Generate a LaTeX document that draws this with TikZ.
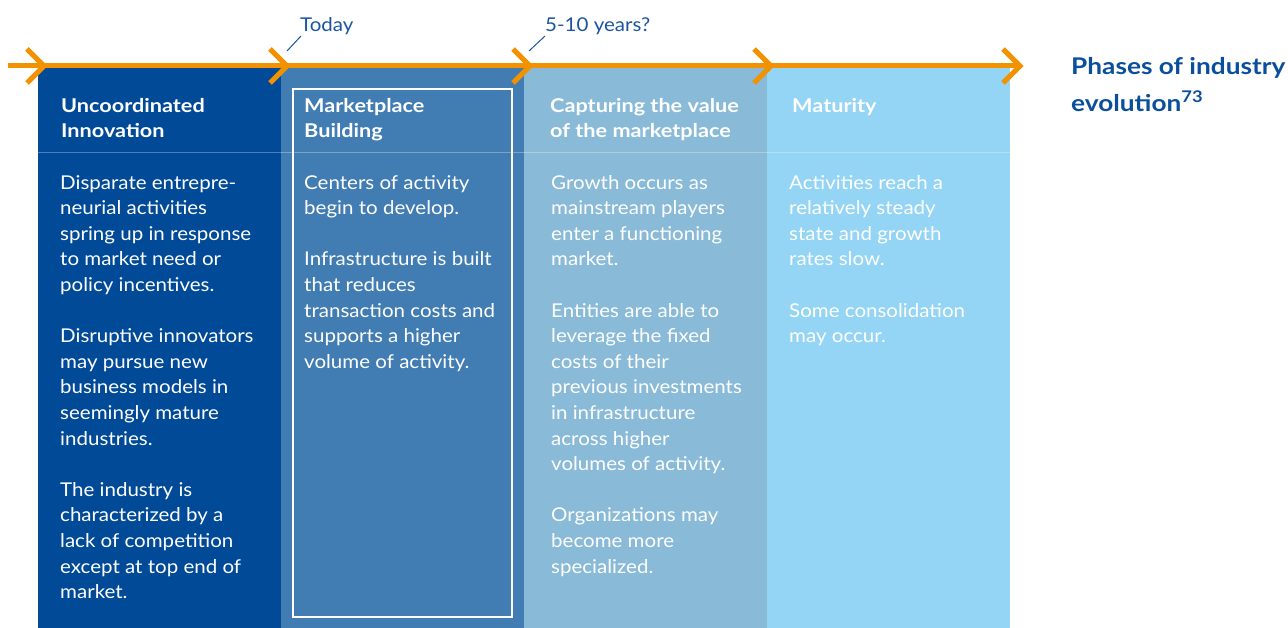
\documentclass[tikz,border=0pt]{standalone}
\usepackage{fontspec}
\setmainfont[FakeStretch=1.08, BoldFeatures={FakeStretch=1.14}]{Lato}
\definecolor{colA}{HTML}{004A98}
\definecolor{colB}{HTML}{417DB3}
\definecolor{colC}{HTML}{89BAD8}
\definecolor{colD}{HTML}{94D4F4}
\definecolor{arroworange}{HTML}{F39200}
\definecolor{titleblue}{HTML}{0B4F9C}
\definecolor{labelblue}{HTML}{1A56A0}
\tikzset{
  bodytext/.style={anchor=north west, inner sep=0pt, align=left, text=white,
    font=\fontsize{19}{25.6}\selectfont},
  headtext/.style={anchor=north west, inner sep=0pt, align=left, text=white,
    font=\fontsize{19}{25.4}\selectfont\bfseries},
  chevron/.style={draw=arroworange, line width=5pt, line cap=butt, line join=miter},
  leader/.style={draw=labelblue, line width=1pt},
  toplabel/.style={anchor=west, inner sep=0pt, text=labelblue, font=\fontsize{19}{22}\selectfont},
}
\begin{document}
\begin{tikzpicture}[x=1pt,y=-1pt]
\useasboundingbox (0,0) rectangle (1288,628);
% columns
\fill[colA] (38,66) rectangle (281,628);
\fill[colB] (281,66) rectangle (524,628);
\fill[colC] (524,66) rectangle (767,628);
\fill[colD] (767,66) rectangle (1010,628);
% divider
\draw[white, opacity=0.3, line width=1pt] (38,153) -- (1010,153);
% white frame
\draw[white, line width=1.8pt] (293,89) rectangle (512,617);
% arrow line
\draw[chevron] (8,66) -- (1018,66);
\foreach \t in {44,287,530,771,1020}{
  \draw[chevron] (\t-17,49) -- (\t,66) -- (\t-17,83);
}
% top labels
\node[toplabel] (today) at (300,26) {Today};
\node[toplabel] (years) at (545,26) {5-10 years?};
\coordinate (todaypt) at (287,51);
\coordinate (yearspt) at (529,51);
\draw[leader] (todaypt) -- (301,36);
\draw[leader] (yearspt) -- (545,36);
% headers
\node[headtext] (h1) at (61,98) {Uncoordinated\\Innovation};
\node[headtext] (h2) at (304,98) {Marketplace\\Building};
\node[headtext] (h3) at (550,98) {Capturing the value\\of the marketplace};
\node[headtext] (h4) at (792,98) {Maturity};
% bodies
\node[bodytext] (b1) at (60,175) {Disparate entrepre-\\neurial activities\\spring up in response\\to market need or\\policy incentives.\\[25.6pt]Disruptive innovators\\may pursue new\\business models in\\seemingly mature\\industries.\\[25.6pt]The industry is\\characterized by a\\lack of competition\\except at top end of\\market.};
\node[bodytext] (b2) at (304,175) {Centers of activity\\begin to develop.\\[25.6pt]Infrastructure is built\\that reduces\\transaction costs and\\supports a higher\\volume of activity.};
\node[bodytext] (b3) at (551,175) {Growth occurs as\\mainstream players\\enter a functioning\\market.\\[25.6pt]Entities are able to\\leverage the fixed\\costs of their\\previous investments\\in infrastructure\\across higher\\volumes of activity.\\[25.6pt]Organizations may\\become more\\specialized.};
\node[bodytext] (b4) at (789,175) {Activities reach a\\relatively steady\\state and growth\\rates slow.\\[25.6pt]Some consolidation\\may occur.};
% title
\node[anchor=north west, inner sep=0pt, align=left, text=titleblue,
  font=\fontsize{23}{37}\selectfont\bfseries] (title) at (1071,57) {Phases of industry\\evolution\textsuperscript{73}};
\end{tikzpicture}
\end{document}
